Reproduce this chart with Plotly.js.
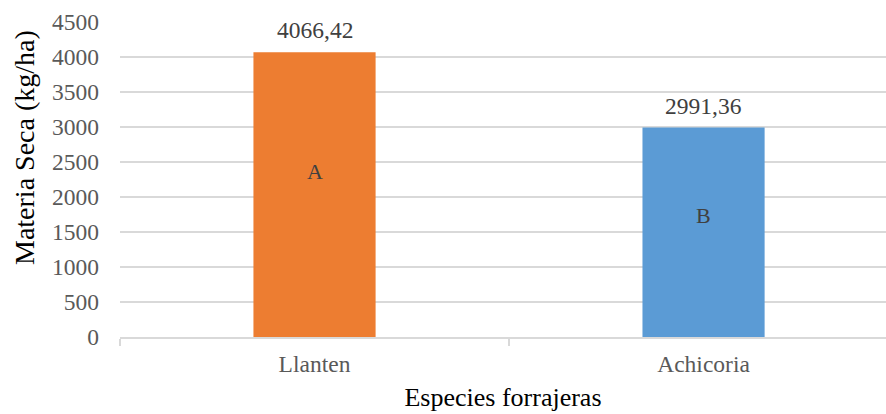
<!DOCTYPE html>
<html>
<head>
<meta charset="utf-8">
<script src="https://cdn.plot.ly/plotly-3.0.1.min.js"></script>
<style>
  html, body { margin: 0; padding: 0; background: #fff; }
  #chart { width: 886px; height: 414px; }
</style>
</head>
<body>
<div id="chart"></div>
<script>
// Forage species and their dry matter yield (kg/ha)
const species = ['Llanten', 'Achicoria'];
const dryMatter = [4066.42, 2991.36];
const valueLabels = ['4066,42', '2991,36'];
const groupLetters = ['A', 'B'];
const barColors = ['#ED7D31', '#5B9BD5'];
const yTicks = [0, 500, 1000, 1500, 2000, 2500, 3000, 3500, 4000, 4500];

const serif = 'Liberation Serif';

const trace = {
  type: 'bar',
  x: species,
  y: dryMatter,
  width: 0.314,
  marker: { color: barColors },
  hoverinfo: 'skip'
};

const annotations = [];
species.forEach((s, i) => {
  // value above each bar
  annotations.push({
    x: s, y: dryMatter[i], xref: 'x', yref: 'y',
    text: valueLabels[i], showarrow: false,
    yanchor: 'bottom', yshift: 7,
    font: { family: serif, size: 23.5, color: '#404040' }
  });
  // significance letter inside the bar
  annotations.push({
    x: s, y: dryMatter[i] * 0.58, xref: 'x', yref: 'y',
    text: groupLetters[i], showarrow: false,
    yanchor: 'middle',
    font: { family: serif, size: 22, color: '#404040' }
  });
});

// vertical axis title, placed beside the tick labels
annotations.push({
  xref: 'paper', yref: 'paper', x: 0, y: 0.6,
  xanchor: 'center', yanchor: 'middle', xshift: -96,
  textangle: -90, showarrow: false,
  text: 'Materia Seca (kg/ha)',
  font: { family: serif, size: 28, color: '#000000' }
});

const layout = {
  width: 886, height: 414,
  margin: { l: 120, r: 0, t: 22, b: 77 },
  paper_bgcolor: '#ffffff',
  plot_bgcolor: '#ffffff',
  showlegend: false,
  font: { family: serif },
  xaxis: {
    type: 'category',
    range: [-0.5, 1.469],
    showgrid: false,
    showline: true, linecolor: '#d9d9d9', linewidth: 2,
    ticks: 'outside', tickson: 'boundaries', ticklen: 7,
    tickcolor: '#d9d9d9', tickwidth: 2,
    ticklabelstandoff: 5,
    tickfont: { family: serif, size: 23.5, color: '#595959' },
    title: {
      text: 'Especies forrajeras',
      font: { family: serif, size: 26, color: '#000000' },
      standoff: 12
    },
    fixedrange: true
  },
  yaxis: {
    range: [0, 4500],
    tickvals: yTicks,
    showgrid: true, gridcolor: '#d9d9d9', gridwidth: 2,
    zeroline: false,
    showline: false,
    ticks: '',
    ticklabelstandoff: 20,
    tickfont: { family: serif, size: 23.5, color: '#595959' },
    fixedrange: true
  },
  annotations: annotations
};

Plotly.newPlot('chart', [trace], layout, { displayModeBar: false, staticPlot: true });
</script>
</body>
</html>
